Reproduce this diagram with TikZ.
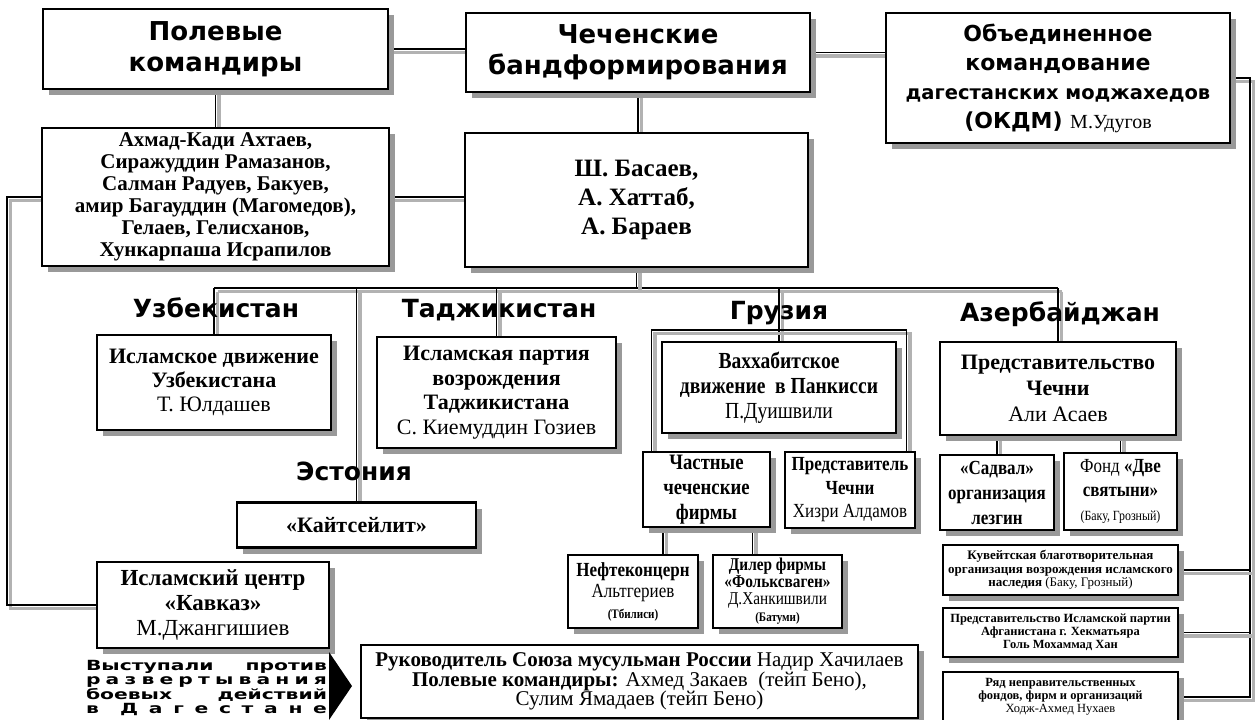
\documentclass[tikz,border=0pt]{standalone}
\usepackage{fontspec}
\setmainfont{Liberation Serif}
\newfontfamily\otsfont{DejaVu Sans}
\newfontfamily\levea[FakeStretch=1.45]{DejaVu Sans}
\newfontfamily\kapea[FakeStretch=0.85]{Liberation Serif}
\usetikzlibrary{shadows,backgrounds}

\begin{document}
\begin{tikzpicture}[line cap=round,x=1pt,y=-1pt,
  laatikko/.style={draw,line width=2.6pt,fill=white,align=center,inner sep=1pt,
    drop shadow={shadow xshift=6pt,shadow yshift=-6pt,fill=black!40,opacity=1}},
  ots/.style={font=\otsfont\bfseries\fontsize{26}{31}\selectfont},
  maa/.style={font=\otsfont\bfseries\fontsize{25}{27}\selectfont,inner sep=0pt,anchor=base},
  yhteys/.style={line width=1.3pt,
    preaction={draw=black!30,line width=3.5pt,transform canvas={shift={(3.5pt,-3.5pt)}}}}]

	\useasboundingbox (0,0) rectangle (1258,720);

	%ylarivi
	\node[laatikko,ots,minimum width=345pt,minimum height=80pt] (polk) at (215.5,49) {Полевые\\командиры};
	\node[laatikko,ots,minimum width=344pt,minimum height=79pt] (chech) at (638,52.5) {Чеченские\\бандформирования};
	\node[laatikko,minimum width=344pt,minimum height=130pt,font=\otsfont\bfseries\fontsize{22}{29}\selectfont] (okdm) at (1058,78)
		{Объединенное\\командование\\{\fontsize{19.5}{29}\selectfont дагестанских моджахедов}\\(ОКДМ) {\rmfamily\mdseries\fontsize{20}{29}\selectfont М.Удугов}};

	\node[laatikko,minimum width=347pt,minimum height=138pt,font=\bfseries\fontsize{21}{22}\selectfont] (spisok) at (215.5,197)
		{Ахмад-Кади Ахтаев,\\Сиражуддин Рамазанов,\\Салман Радуев, Бакуев,\\амир Багауддин (Магомедов),\\Гелаев, Гелисханов,\\Хункарпаша Исрапилов};
	\node[laatikko,minimum width=343pt,minimum height=134pt,font=\bfseries\fontsize{25}{29}\selectfont] (basaev) at (636.5,200)
		{Ш. Басаев,\\А. Хаттаб,\\А. Бараев};

	%maat
	\node[maa] (luzb) at (216,317) {Узбекистан};
	\node[maa] (ltadj) at (499,317) {Таджикистан};
	\node[maa] (lgruz) at (779,319) {Грузия};
	\node[maa] (lazer) at (1060,321) {Азербайджан};
	\node[maa] (lest) at (354,480) {Эстония};

	\node[laatikko,minimum width=234pt,minimum height=95pt,font=\fontsize{22}{24}\selectfont] (uzb) at (214,382.5)
		{\textbf{Исламское движение}\\\textbf{Узбекистана}\\Т. Юлдашев};
	\node[laatikko,minimum width=239pt,minimum height=111pt,font=\fontsize{22}{24.5}\selectfont] (tadj) at (496.5,392.5)
		{\textbf{Исламская партия}\\\textbf{возрождения}\\\textbf{Таджикистана}\\С. Киемуддин Гозиев};
	\node[laatikko,minimum width=234pt,minimum height=91pt,font=\kapea\fontsize{23}{25}\selectfont] (vahh) at (779,387.5)
		{\textbf{Ваххабитское}\\\textbf{движение\ \ в Панкисси}\\П.Дуишвили};
	\node[laatikko,minimum width=236pt,minimum height=93pt,font=\fontsize{22}{26}\selectfont] (predst) at (1058,388.5)
		{\textbf{Представительство}\\\textbf{Чечни}\\Али Асаев};

	\node[laatikko,minimum width=127pt,minimum height=75pt,font=\kapea\bfseries\fontsize{22}{25}\selectfont] (chast) at (706.5,489.5)
		{Частные\\чеченские\\фирмы};
	\node[laatikko,minimum width=130pt,minimum height=76pt,font=\kapea\fontsize{20}{23.5}\selectfont] (hizri) at (850,490)
		{\textbf{Представитель}\\\textbf{Чечни}\\Хизри Алдамов};
	\node[laatikko,minimum width=114pt,minimum height=75pt,font=\kapea\bfseries\fontsize{20}{25}\selectfont] (sadval) at (997,492.5)
		{«Садвал»\\организация\\лезгин};
	\node[laatikko,minimum width=113pt,minimum height=77pt,font=\kapea\fontsize{20}{24}\selectfont] (fond) at (1120.5,491.5)
		{Фонд \textbf{«Две}\\\textbf{святыни»}\\{\fontsize{14}{20}\selectfont(Баку, Грозный)}};

	\node[laatikko,minimum width=239pt,minimum height=45pt,font=\bfseries\fontsize{22}{24}\selectfont] (kaits) at (356.5,525) {«Кайтсейлит»};
	\node[laatikko,minimum width=232pt,minimum height=86pt,font=\fontsize{23}{25}\selectfont] (kavkaz) at (213,605)
		{\textbf{Исламский центр}\\\textbf{«Кавказ»}\\М.Джангишиев};

	\node[laatikko,minimum width=130pt,minimum height=73pt,font=\kapea\fontsize{20}{21}\selectfont] (nefte) at (633,591.5)
		{\textbf{Нефтеконцерн}\\Альтгериев\\{\bfseries\fontsize{13}{17}\selectfont(Тбилиси)}};
	\node[laatikko,minimum width=129pt,minimum height=73pt,font=\kapea\fontsize{18}{17}\selectfont] (diler) at (777.5,591.5)
		{\textbf{Дилер фирмы}\\\textbf{«Фольксваген»}\\Д.Ханкишвили\\{\bfseries\fontsize{13}{15}\selectfont(Батуми)}};

	\node[laatikko,minimum width=235pt,minimum height=50pt,font=\bfseries\fontsize{13}{13.5}\selectfont] (kuveit) at (1060.5,570)
		{Кувейтская благотворительная\\организация возрождения исламского\\наследия {\mdseries(Баку, Грозный)}};
	\node[laatikko,minimum width=235pt,minimum height=49pt,font=\bfseries\fontsize{12.5}{13}\selectfont] (afgan) at (1060.5,632.5)
		{Представительство Исламской партии\\Афганистана г. Хекматьяра\\Голь Мохаммад Хан};
	\node[laatikko,minimum width=235pt,minimum height=50pt,font=\bfseries\fontsize{12.5}{13}\selectfont] (ryad) at (1060.5,697)
		{Ряд неправительственных\\фондов, фирм и организаций\\{\mdseries Ходж-Ахмед Нухаев}};

	\node[laatikko,minimum width=557pt,minimum height=73pt,font=\fontsize{21}{19.5}\selectfont] (rukov) at (639.5,681.5)
		{\textbf{Руководитель Союза мусульман России} Надир Хачилаев\\\textbf{Полевые командиры:} Ахмед Закаев\ \ (тейп Бено),\\Сулим Ямадаев (тейп Бено)};

	%alavasen teksti ja nuoli
	\node[font=\levea\bfseries\fontsize{14}{14.2}\selectfont,text width=241pt,align=left,inner sep=0pt] (vyst) at (206.5,688)
		{\makebox[241pt][l]{Выступали\hfill против}\\
		 \makebox[241pt][l]{р\hfill а\hfill з\hfill в\hfill е\hfill р\hfill т\hfill ы\hfill в\hfill а\hfill н\hfill и\hfill я}\\
		 \makebox[241pt][l]{боевых\hfill действий}\\
		 \makebox[241pt][l]{в\hfill\hfill Д\hfill а\hfill г\hfill е\hfill с\hfill т\hfill а\hfill н\hfill е}};
	\fill (329,652) -- (352,686) -- (329,720) -- cycle;

	%yhteydet
	\coordinate (runko) at (0,288);
	\coordinate (gbar) at (0,330);
	\coordinate (vasen) at (7,0);
	\coordinate (oikea) at (1250,0);
	\coordinate (gl) at ([xshift=10pt]chast.north west);
	\coordinate (gr) at ([xshift=-10pt]hizri.north east);
	\coordinate (nv) at ([xshift=30pt]nefte.north);
	\coordinate (dv) at ([xshift=-25pt]diler.north);

	\begin{scope}[on background layer]
		\fill[white] (0,0) rectangle (1258,720);
		\draw[yhteys] (polk.east) -- (polk.east -| chech.west);
		\draw[yhteys] (chech.east) -- (chech.east -| okdm.west);
		\draw[yhteys] (polk.south) -- (polk.south |- spisok.north);
		\draw[yhteys] (chech.south) -- (chech.south |- basaev.north);
		\draw[yhteys] (spisok.east) -- (spisok.east -| basaev.west);
		\draw[yhteys] (okdm.east) -- (okdm.east -| oikea) -- (ryad.east -| oikea) -- (ryad.east);
		\draw[yhteys] (kuveit.east) -- (kuveit.east -| oikea);
		\draw[yhteys] (afgan.east) -- (afgan.east -| oikea);
		\draw[yhteys] (spisok.west) -- (spisok.west -| vasen) -- (kavkaz.west -| vasen) -- (kavkaz.west);
		\draw[yhteys] (uzb.north |- runko) -- (predst.north |- runko);
		\draw[yhteys] (basaev.south) -- (basaev.south |- runko);
		\foreach \n in {uzb,kaits,tadj,vahh,predst}
		{\draw[yhteys] (\n.north |- runko) -- (\n.north);}
		\draw[yhteys] (gl) -- (gl |- gbar) -- (gr |- gbar) -- (gr);
		\draw[yhteys] (nv) -- (nv |- chast.south);
		\draw[yhteys] (dv) -- (dv |- chast.south);
		\draw[yhteys] (sadval.north) -- (sadval.north |- predst.south);
		\draw[yhteys] (fond.north) -- (fond.north |- predst.south);
	\end{scope}

\end{tikzpicture}
\end{document}
